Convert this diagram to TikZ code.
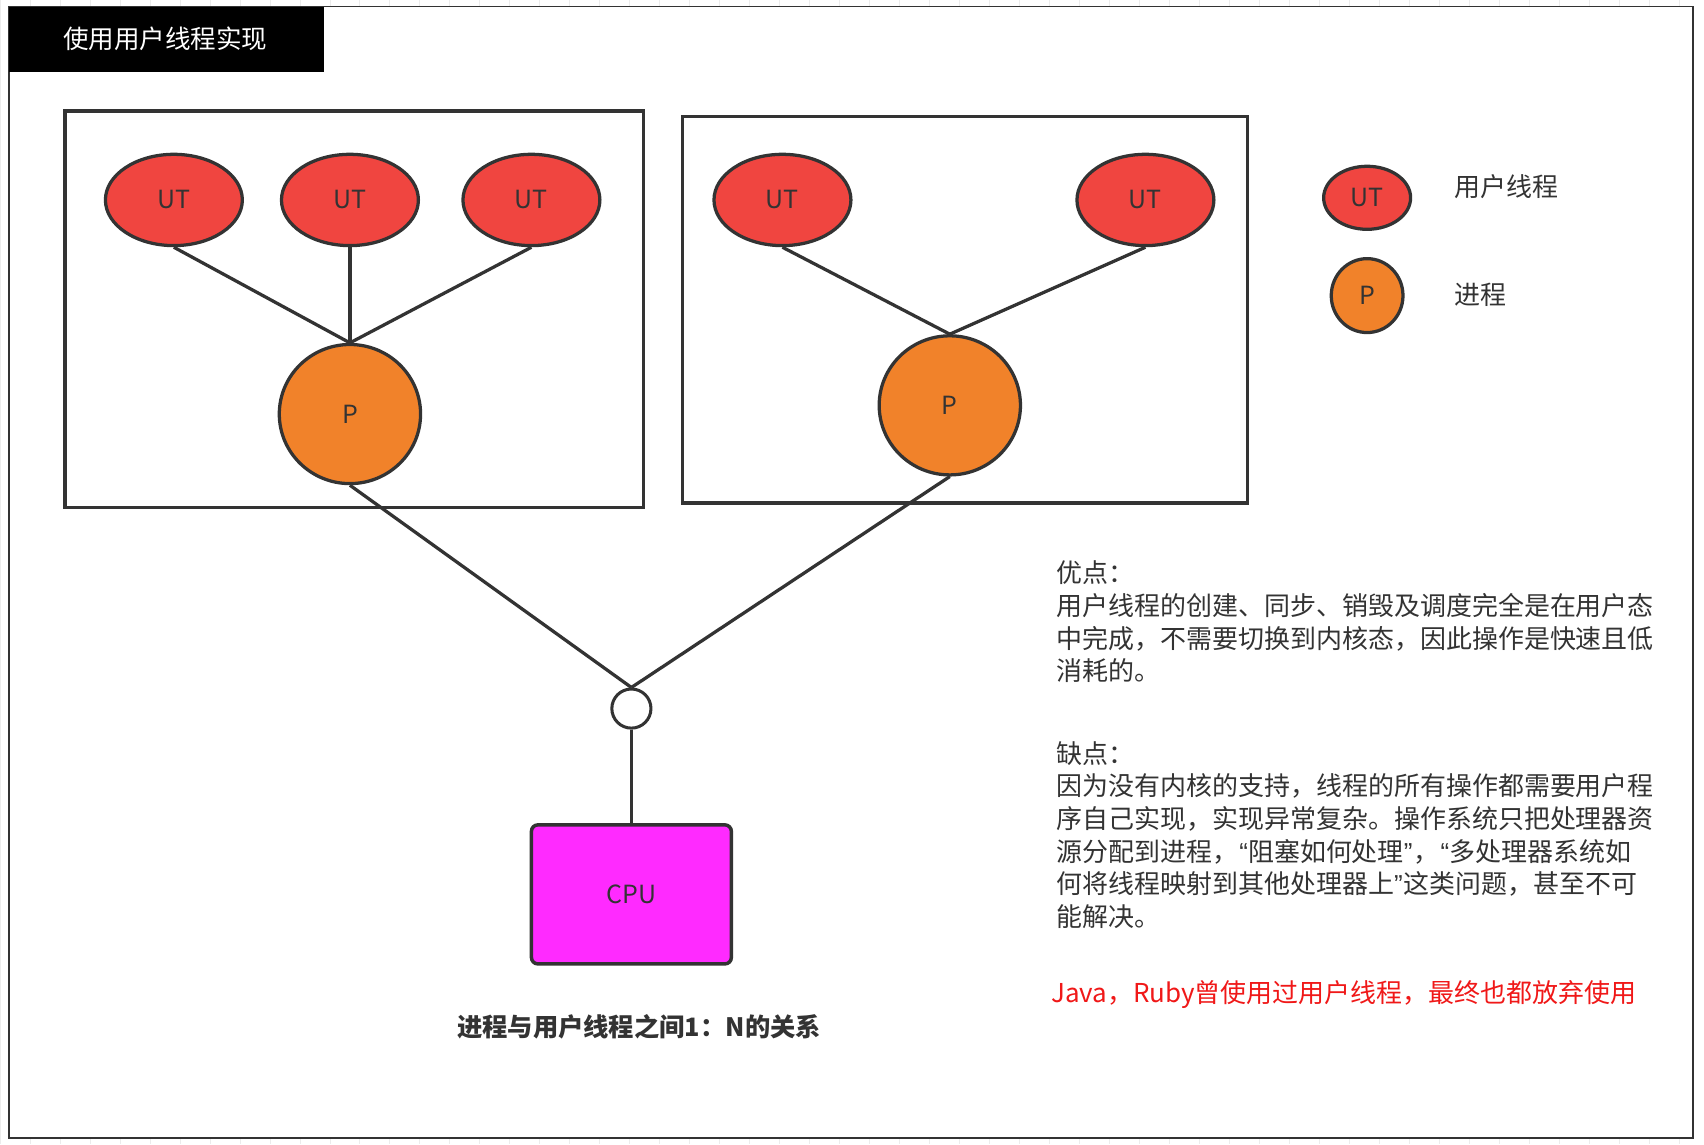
\documentclass[tikz,border=0pt]{standalone}
\usepackage{fontspec}
\setmainfont{Noto Sans CJK SC}
\newfontfamily\latinq{Liberation Sans}
\usetikzlibrary{shapes.geometric}
\definecolor{ink}{HTML}{333333}
\definecolor{utred}{HTML}{F04540}
\definecolor{porange}{HTML}{F1822A}
\definecolor{cpumag}{HTML}{FF2AFF}
\definecolor{note}{HTML}{F01818}
\definecolor{gridc}{HTML}{ECECEC}
\newcommand{\myopenq}{{\latinq\kern1pt“}}
\newcommand{\mycloseq}{{\latinq”\kern1pt}}
\tikzset{
  ut/.style={ellipse, draw=ink, line width=3pt, fill=utred, minimum width=126pt, minimum height=84pt, inner sep=0pt, text=ink, font=\fontsize{23}{24}\selectfont},
  proc/.style={ellipse, draw=ink, line width=3pt, fill=porange, minimum width=130pt, minimum height=128pt, inner sep=0pt, text=ink, font=\fontsize{23}{24}\selectfont},
  link/.style={draw=ink, line width=3pt},
  frame/.style={draw=ink, line width=3.2pt},
  txt/.style={inner sep=0pt, text=ink, font=\fontsize{23.9}{30}\selectfont},
}
\begin{document}
\begin{tikzpicture}[x=1pt,y=-1pt]
\useasboundingbox (0,0) rectangle (1568,1052.7);
% background grid outside frame
\draw[gridc, line width=0.8pt] (0,0) grid[step=27.6] (1568,1052.7);
\fill[white] (8,6) rectangle (1558,1047);
\draw[ink, line width=1.6pt] (8,6) rectangle (1558,1047);
% title
\fill[black] (8,6) rectangle (298,66);
\node[inner sep=0pt, text=white, font=\fontsize{23.5}{26}\selectfont] (title) at (152,36) {使用用户线程实现};
% left box
\draw[frame] (60,102) rectangle (592,467);
\node[ut] (u1) at (160,184) {UT};
\node[ut] (u2) at (322,184) {UT};
\node[ut] (u3) at (489,184) {UT};
\node[proc] (p1) at (322,381) {P};
% right box
\draw[frame] (628,107) rectangle (1148,463);
\node[ut] (u4) at (720,184) {UT};
\node[ut] (u5) at (1054,184) {UT};
\node[proc] (p2) at (874,373) {P};
% junction and cpu
\node[circle, draw=ink, line width=2.8pt, fill=white, minimum size=36pt, inner sep=0pt] (j) at (581,652) {};
\node[draw=ink, line width=3.2pt, fill=cpumag, rounded corners=6pt, minimum width=184pt, minimum height=128pt, inner sep=0pt, text=ink, font=\fontsize{23}{24}\selectfont] (cpu) at (581,823) {CPU};
% connectors
\draw[link] (u1.south) -- (p1.north);
\draw[link] (u2.south) -- (p1.north);
\draw[link] (u3.south) -- (p1.north);
\draw[link] (u4.south) -- (p2.north);
\draw[link] (u5.south) -- (p2.north);
\draw[link] (p1.south) -- (j.north);
\draw[link] (p2.south) -- (j.north);
\draw[link] (j.south) -- (cpu.north);
% caption
\node[txt, font=\fontsize{23.3}{26}\selectfont\bfseries] (cap) at (588,945) {进程与用户线程之间1：N的关系};
% legend
\node[ut, minimum width=80pt, minimum height=58pt] (lu) at (1258,182) {UT};
\node[proc, minimum width=66pt, minimum height=68pt] (lp) at (1258,272) {P};
\node[txt, anchor=west] (lut) at (1338,172) {用户线程};
\node[txt, anchor=west] (lpt) at (1338,271) {进程};
% notes
\node[txt, anchor=north west, align=left] (pro) at (972,516) {优点：\\用户线程的创建、同步、销毁及调度完全是在用户态\\中完成，不需要切换到内核态，因此操作是快速且低\\消耗的。};
\node[txt, anchor=north west, align=left] (con) at (972,682) {缺点：\\因为没有内核的支持，线程的所有操作都需要用户程\\序自己实现，实现异常复杂。操作系统只把处理器资\\源分配到进程，\myopenq 阻塞如何处理\mycloseq ，\myopenq 多处理器系统如\\何将线程映射到其他处理器上\mycloseq 这类问题，甚至不可\\能解决。};
\node[txt, anchor=west, text=note] (red) at (967,915) {Java，Ruby曾使用过用户线程，最终也都放弃使用};
\end{tikzpicture}
\end{document}
